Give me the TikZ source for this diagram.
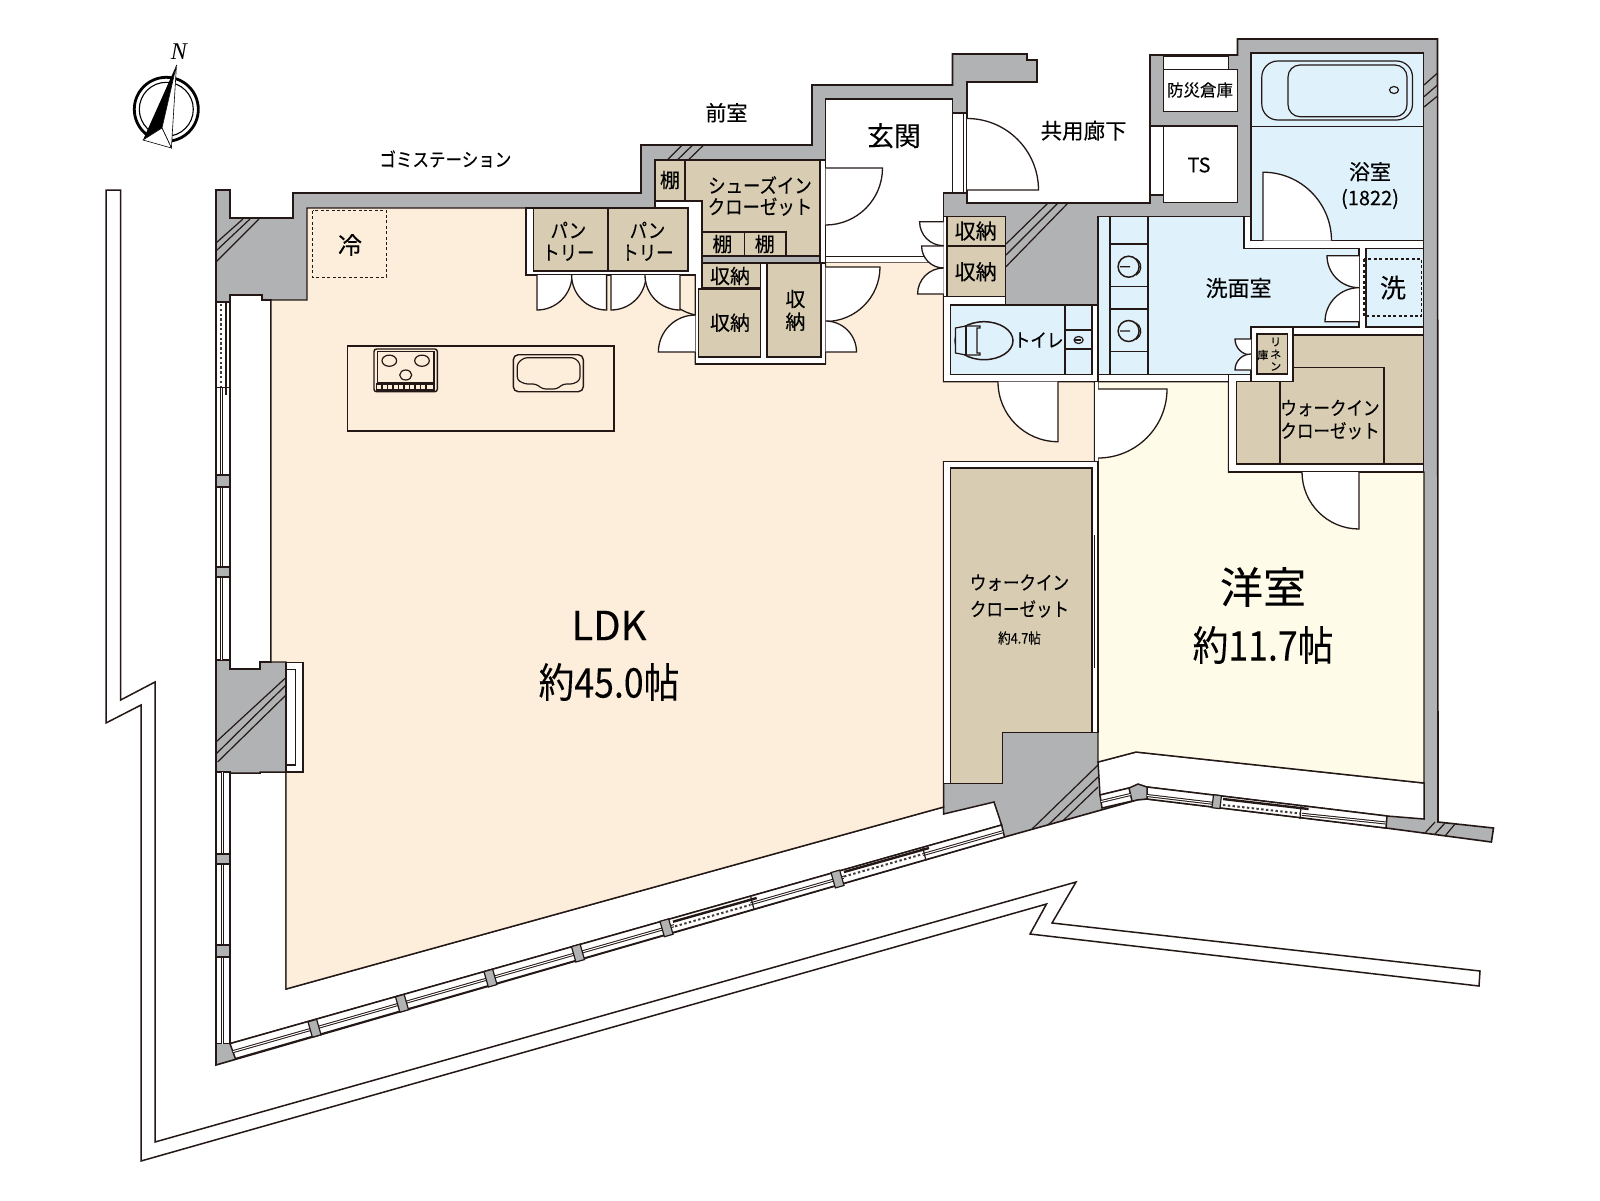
\documentclass[tikz,border=0pt]{standalone}
\usepackage{fontspec}
\newfontfamily\jpfont[FakeBold=0.12]{Noto Sans CJK JP}
\newfontfamily\jpnarrow[FakeStretch=0.87,FakeBold=0.12]{Noto Sans CJK JP}
\setmainfont{Liberation Serif}

\definecolor{linecol}{HTML}{231815}
\definecolor{wallgray}{HTML}{B1B2B4}
\definecolor{ldkpeach}{HTML}{FDEEDB}
\definecolor{bedcream}{HTML}{FFFBE9}
\definecolor{wetblue}{HTML}{DFF1FB}
\definecolor{closettan}{HTML}{D8CDB2}

\newcommand{\doorswing}[4]{
	\fill[white] (#1) -- ++(#3:#2) arc[start angle=#3,end angle=#4,radius=#2] -- cycle;
	\draw[doorline] (#1) -- ++(#3:#2) arc[start angle=#3,end angle=#4,radius=#2];
}

\begin{document}
\begin{tikzpicture}[
	x=1pt,
	y=-1pt,
	wall/.style={fill=wallgray, draw=linecol, line width=1.6pt, line join=miter},
	whitepart/.style={fill=white, draw=linecol, line width=1.5pt},
	ldkroom/.style={fill=ldkpeach, draw=linecol, line width=1.4pt},
	bedroom/.style={fill=bedcream, draw=linecol, line width=1.4pt},
	wetroom/.style={fill=wetblue, draw=linecol, line width=1.4pt},
	closet/.style={fill=closettan, draw=linecol, line width=1.4pt},
	thinline/.style={draw=linecol, line width=1.2pt},
	hatchline/.style={draw=linecol, line width=1.2pt},
	doorline/.style={draw=linecol, line width=1.3pt},
	dashbox/.style={draw=linecol, line width=1.3pt, dash pattern=on 3pt off 2.4pt},
	sash/.style={draw=linecol, line width=1pt, double=white, double distance=1pt},
	thicksash/.style={draw=linecol, line width=2.4pt},
	screenline/.style={draw=linecol!85, line width=2pt, dash pattern=on 2.4pt off 2.4pt},
	mullion/.style={fill=wallgray, draw=linecol, line width=1.2pt, inner sep=0pt, minimum width=#1},
	tag/.style={font=\jpfont\fontsize{#1}{#1}\selectfont, inner sep=0pt, text=black, align=center},
	kanatag/.style={font=\jpnarrow\fontsize{#1}{#1}\selectfont, inner sep=0pt, text=black, align=center}
	]

	\useasboundingbox (0,0) rectangle (1600,1200);
	\fill[white] (0,0) rectangle (1600,1200);

	% balcony
	\draw[whitepart] (106,190) -- (120.6,190) -- (120.6,700) -- (155,682) -- (155,1142) -- (1076,882) -- (1052,923) -- (1480,971) -- (1479,986) -- (1030,934) -- (1046.5,904) -- (141,1161) -- (141,705) -- (106,723) -- cycle;

	% building outline, everything else is painted over it
	\draw[wall] (216,190) -- (230,190) -- (230,218) -- (293,218) -- (293,193) -- (641,193) -- (641,145) -- (812,145) -- (812,85) -- (952.5,85) -- (952.5,54) -- (1027,54) -- (1027,60) -- (1037,60) -- (1037,82) -- (967,82) -- (967,203) -- (1150,203) -- (1150,55) -- (1237.5,55) -- (1237.5,39) -- (1437.5,39) -- (1438,822) -- (1493.5,828) -- (1491.4,842) -- (1386,828) -- (1147,799) -- (1137,800) -- (1004.5,837) -- (216,1065) -- cycle;

	% white strips along the glass
	\draw[whitepart] (230,295) -- (262,295) -- (262,300) -- (271,300) -- (271,662) -- (260,662) -- (260,669) -- (230,669) -- cycle;
	\draw[whitepart] (230,773) -- (260,773) -- (260,772) -- (286,772) -- (286,989) -- (943.6,807) -- (943.6,814) -- (994,802) -- (1001.6,825) -- (230,1043.6) -- cycle;
	\draw[whitepart] (1098,762) -- (1136,752) -- (1424,783) -- (1424,819) -- (1387,816) -- (1147,787) -- (1138,784) -- (1129,788) -- (1100,795) -- cycle;

	% LDK and bedroom
	\draw[ldkroom] (307,208) -- (526,208) -- (526,275) -- (695.4,275) -- (695.4,364) -- (825.5,364) -- (825.5,262) -- (943.6,262) -- (943.6,381.7) -- (1094.6,381.7) -- (1094.6,461.7) -- (943.6,461.7) -- (943.6,807) -- (286,989) -- (286,772) -- (286,662) -- (271,662) -- (271,300) -- (307,300) -- cycle;
	\draw[bedroom] (1098,381.7) -- (1228.6,381.7) -- (1228.6,472) -- (1424,472) -- (1424,783) -- (1136,752) -- (1098,762) -- cycle;
	\fill[white] (1094.6,381.7) rectangle (1098,461.7);
	\draw[thinline] (1094.6,381.7) -- (1094.6,461.7);

	% entrance
	\draw[whitepart] (825.5,99) -- (952.5,99) -- (952.5,193) -- (943.6,193) -- (943.6,256.7) -- (825.5,256.7) -- cycle;
	\draw[whitepart] (952.5,113) rectangle (967,193);
	\draw[thinline] (963.6,113) -- (963.6,193);
	\fill[white] (825.5,256.7) rectangle (943.6,262);

	% closets by the entrance
	\draw[whitepart] (655,201) -- (702,201) -- (702,263) -- (825.5,263) -- (825.5,364) -- (695.4,364) -- (695.4,275) -- (526,275) -- (526,208) -- (655,208) -- cycle;
	\draw[whitepart] (820,160) rectangle (825.5,263);
	\draw[closet] (655,160) -- (820,160) -- (820,256) -- (702,256) -- (702,201) -- (655,201) -- cycle;
	\draw[thinline] (685,160) -- (685,201);
	\draw[thinline] (702,232) -- (786,232) -- (786,256) (744.4,232) -- (744.4,256);
	\draw[closet] (533.7,208) rectangle (608,271);
	\draw[closet] (608,208) rectangle (688,271);
	\draw[closet] (702,263) rectangle (760.7,288);
	\draw[closet] (698.5,289) rectangle (760.7,357);
	\draw[closet] (767,263) rectangle (821,357);

	% storage and toilet
	\draw[whitepart] (943.6,216.7) rectangle (1005.4,296.7);
	\draw[closet] (947,216.7) rectangle (1005.4,246);
	\draw[closet] (947,246) rectangle (1005.4,296.7);
	\draw[whitepart] (943.6,296.7) -- (1005.4,296.7) -- (1005.4,305) -- (1098,305) -- (1098,381.7) -- (943.6,381.7) -- cycle;
	\draw[wetroom] (950.7,305) rectangle (1092,374.3);
	\draw[thinline] (1065,305) -- (1065,374.3) (1065,330) -- (1092,330) (1065,349) -- (1092,349);
	\draw[thinline] (1078.6,340) ellipse [x radius=4.5, y radius=3.5];
	\draw[thinline] (1074,340) -- (1081,340);
	\draw[draw=linecol, line width=1.5pt] (984,340.7) ellipse [x radius=29, y radius=19];
	\draw[thinline, fill=wetblue] (955.4,328) -- (966,326) -- (980,326) -- (980,328) -- (977,328) -- (977,353) -- (980,353) -- (980,355) -- (966,355) -- (955.4,353) -- cycle;
	\draw[thinline] (966,326) -- (966,355);

	% washroom, bath
	\draw[whitepart] (1098,216.7) -- (1251,216.7) -- (1251,240.7) -- (1423.5,240.7) -- (1423.5,335) -- (1293,335) -- (1293,381.7) -- (1098,381.7) -- cycle;
	\draw[wetroom] (1098,216.7) -- (1244,216.7) -- (1244,248.3) -- (1359,248.3) -- (1359,327) -- (1251,327) -- (1251,374.3) -- (1098,374.3) -- cycle;
	\draw[thinline] (1110,216.7) -- (1110,374.3) (1148,216.7) -- (1148,374.3);
	\foreach \cy in {244,286.7,309,351.7}
		\draw[thinline] (1110,\cy) -- (1148,\cy);
	\foreach \cy in {266.7,331}{
		\draw[draw=linecol, line width=1.5pt] (1128.6,\cy) circle [radius=10.5];
		\draw[thinline] (1120,\cy) -- (1130,\cy) (1136,\cy-8) arc[start angle=-60,end angle=60,radius=9.5];
	}
	\draw[wetroom] (1366,248.3) rectangle (1423.5,327);
	\draw[dashbox] (1364,259) rectangle (1421.4,316);
	\draw[wetroom] (1251,53) rectangle (1423.5,240.7);
	\draw[thinline] (1251,126.7) -- (1423.5,126.7);
	\draw[thinline] (1261.8,61) [rounded corners=16pt] rectangle (1412.5,120);
	\draw[thinline] (1288,65) [rounded corners=12pt] rectangle (1407,116.7);
	\draw[thinline] (1394,90) ellipse [x radius=4.5, y radius=3.5];

	% small rooms beside the corridor
	\draw[whitepart] (1163.6,56) rectangle (1228.6,69.3);
	\draw[whitepart] (1163.6,69.3) rectangle (1237.5,111.7);
	\draw[whitepart] (1163.6,126) rectangle (1237.5,202.7);
	\draw[whitepart] (1150,126) rectangle (1163.6,195);

	% walk-in closets
	\draw[whitepart] (1228.6,374.3) rectangle (1423.5,472);
	\draw[closet] (1236.4,381.7) -- (1293,381.7) -- (1293,335) -- (1423.5,335) -- (1423.5,464) -- (1236.4,464) -- cycle;
	\draw[thinline] (1280,381.7) -- (1280,464) (1293,367.7) -- (1384,367.7) -- (1384,464);
	\draw[whitepart] (1251,327) rectangle (1293,381.7);
	\draw[closet] (1257,334) rectangle (1287.5,374);
	\draw[whitepart] (943.6,461.7) -- (1098,461.7) -- (1098,732.7) -- (1002.4,732.7) -- (1002.4,783.3) -- (943.6,783.3) -- cycle;
	\draw[closet] (950.6,468) -- (1092,468) -- (1092,732.7) -- (1002.4,732.7) -- (1002.4,783.3) -- (950.6,783.3) -- cycle;
	\draw[thinline] (1094.5,535) -- (1094.5,668);

	% kitchen
	\draw[draw=linecol, line width=1.8pt] (347.4,346) rectangle (613.8,431);
	\draw[draw=linecol, line width=1.4pt, rounded corners=2.5pt] (374,349) rectangle (437.3,391.7);
	\draw[thinline] (377.3,351.7) rectangle (434,382.7);
	\draw[thinline] (389.3,360.7) ellipse [x radius=7.3, y radius=5.6];
	\draw[thinline] (422,360.7) ellipse [x radius=7.3, y radius=5.6];
	\draw[thinline] (405.7,375) ellipse [x radius=6, y radius=5];
	\draw[thinline] (376.7,384) rectangle (434,390);
	\foreach \tx in {382,387.5,393,398.5,404,409.5,415,420.5,426}
		\draw[thinline] (\tx,384) -- (\tx,390);
	\draw[draw=linecol, line width=1.4pt, rounded corners=5pt] (513.3,354.7) rectangle (583.3,391.7);
	\draw[thinline, rounded corners=3pt] (524.3,357.7) -- (574.3,357.7) -- (580,363.3) -- (580,380) -- (573.3,384) -- (563.3,384) -- (556.7,389) -- (542.7,389) -- (536,384) -- (525,384) -- (517.3,380) -- (517.3,363.3) -- cycle;
	\draw[dashbox] (312.8,210.7) rectangle (386.7,277.3);

	% column with its panel
	\draw[whitepart, line width=1.1pt] (286,662.5) rectangle (303,772);
	\draw[whitepart, line width=1.1pt] (286,669.6) rectangle (295.6,765);

	% glass on the left
	\draw[whitepart] (216,302) rectangle (230,660);
	\draw[whitepart] (216,772) rectangle (230,1043.6);
	\draw[screenline] (220.5,304) -- (220.5,386);
	\draw[thicksash] (225.7,303) -- (225.7,395);
	\draw[thinline] (216,387.7) -- (230,387.7);
	\draw[sash] (221,388) -- (221,660);
	\draw[sash] (222,772) -- (222,1043.6);
	\foreach \my/\mh [count=\i] in {481/12,572/10,859/10,951/12}
		\node[mullion=14pt, line width=1.8pt, minimum height=\mh pt] (leftmull\i) at (223,\my) {};

	% glass on the long slanted side
	\draw[whitepart] (230,1043.6) -- (1001.6,825) -- (1004.5,837) -- (235.4,1058.6) -- cycle;
	\draw[sash] (233,1051.6) -- (751,903.7);
	\draw[sash] (751,903.7) -- (1003,831.7);
	\draw[fill=white, draw=none] (674,921.7) -- (750,899.5) -- (750,908) -- (674,930) -- cycle;
	\draw[fill=white, draw=none] (844,872) -- (923,849.5) -- (923,858) -- (844,880.5) -- cycle;
	\draw[screenline] (675,926.3) -- (750,905);
	\draw[screenline] (844,876.5) -- (923,854);
	\draw[thicksash] (673,921.7) -- (756.7,898);
	\draw[thicksash] (844,872) -- (929,848);
	\draw[thinline] (750.7,896.5) -- (754,909.5);
	\draw[thinline] (922.7,847.5) -- (926,860.5);
	\foreach \mx/\my [count=\i] in {314.5/1028.3,402/1003.3,490.5/978.1,578/953.1,666.5/927.8,837.5/879}
		\node[mullion=9pt, minimum height=16pt, rotate=15.93] (longmull\i) at (\mx,\my) {};

	% glass of the bedroom
	\draw[whitepart] (1100,795) -- (1129,788) -- (1132,801) -- (1102,808) -- cycle;
	\draw[sash] (1101,801.5) -- (1130.5,794.5);
	\draw[whitepart] (1147,787) -- (1387,816) -- (1386,828) -- (1147,799) -- cycle;
	\draw[sash] (1147,795.5) -- (1213,803.3);
	\draw[screenline] (1223,805) -- (1300,813.5);
	\draw[thicksash] (1223,799) -- (1308.6,809);
	\draw[thinline] (1301,806) -- (1300,819);
	\draw[sash] (1302,814.3) -- (1386,823);
	\node[mullion=8pt, minimum height=13pt, rotate=-6.9] (bedmull) at (1216.7,801.7) {};

	% diagonal hatching of the shafts
	\foreach \ax/\ay/\bx/\by in {216/243/243/219, 216/251/250/219, 216/262/259/219, 668/159.3/681.6/145.7, 678/159.3/692/145.7, 689/159.3/703/145.7, 1048/203/1006/244, 1058/203/1006/255, 1068/203/1006/266.7, 1424/85/1437.5/73, 1424/96.7/1437.5/85, 1424/107/1437.5/96, 1425/833/1435/822, 1435/834/1445/823, 1445/836/1455/824, 216/742/286/677.5, 216/754/286/685, 217.6/762/286/695, 1032/829/1098/765, 1048/825/1098/777, 1063/820.7/1098/787}
		\draw[hatchline] (\ax,\ay) -- (\bx,\by);

	% doors
	\doorswing{825.5,168}{57}{0}{90}
	\doorswing{537,275}{35}{90}{0}
	\doorswing{606.6,275}{35}{90}{180}
	\doorswing{611,275}{35}{90}{0}
	\doorswing{680,275}{35}{90}{180}
	\doorswing{695.4,352}{37}{180}{270}
	\draw[doorline] (680,309) to[bend right=8] (695.4,315);
	\doorswing{825.5,267}{54.5}{0}{90}
	\doorswing{825.5,352}{31}{0}{-90}
	\doorswing{943.6,221.7}{24}{180}{90}
	\doorswing{943.6,246}{22}{180}{90}
	\doorswing{943.6,294}{26}{180}{270}
	\doorswing{967,190}{71.5}{0}{-90}
	\doorswing{1058,381.7}{60}{90}{180}
	\doorswing{1098,389}{69}{0}{90}
	\doorswing{1263,240.7}{68.5}{270}{360}
	\doorswing{1359,255.7}{32}{180}{90}
	\doorswing{1359,321.7}{34}{180}{270}
	\doorswing{1251,339}{16}{180}{90}
	\doorswing{1251,370}{16}{180}{270}
	\doorswing{1359,472}{57}{90}{180}

	% north mark
	\draw[draw=black, line width=2.8pt] (166.3,109.3) circle [radius=32];
	\draw[draw=black, line width=1.1pt] (166.3,109.3) circle [radius=27];
	\fill[black] (176.5,65) -- (143,140) -- (162,128) -- cycle;
	\draw[fill=white, draw=black, line width=.6pt] (176.5,65) -- (162,128) -- (171.4,148) -- cycle;
	\draw[fill=white, draw=black, line width=.6pt] (143,140) -- (162,128) -- (171.4,148) -- cycle;
	\node[font=\itshape\fontsize{24}{24}\selectfont, inner sep=0pt] (northmark) at (179,52) {N};

	% labels
	\node[tag=21] (anteroom) at (726.5,112.7) {前室};
	\node[kanatag=19] (garbage) at (445.4,159) {ゴミステーション};
	\node[tag=27] (entrance) at (894,135.7) {玄関};
	\node[tag=21.5] (corridor) at (1083.6,130.7) {共用廊下};
	\node[tag=16.5] (disaster) at (1200,90) {防災倉庫};
	\node[tag=20] (tsroom) at (1199,165) {TS};
	\node[tag=21] (bathname) at (1370,171.7) {浴室};
	\node[tag=20] (bathsize) at (1370,199) {(1822)};
	\node[kanatag=20] (shoesa) at (760,185) {シューズイン};
	\node[kanatag=20] (shoesb) at (760,206.7) {クローゼット};
	\node[tag=20] (shelfa) at (670,180) {棚};
	\node[tag=20] (shelfb) at (722.4,244) {棚};
	\node[tag=20] (shelfc) at (764.8,244) {棚};
	\node[tag=24] (fridge) at (350,245) {冷};
	\node[kanatag=20] (pantryaa) at (568.4,230) {パン};
	\node[kanatag=20] (pantryab) at (568.4,252.7) {トリー};
	\node[kanatag=20] (pantryba) at (647.5,230) {パン};
	\node[kanatag=20] (pantrybb) at (647.5,252.7) {トリー};
	\node[tag=20] (storea) at (730,276) {収納};
	\node[tag=20] (storeb) at (730,322.7) {収納};
	\node[tag=20] (storec) at (795.4,299) {収};
	\node[tag=20] (stored) at (795.4,321.7) {納};
	\node[tag=21] (storee) at (975.7,231) {収納};
	\node[tag=21] (storef) at (975.7,271.7) {収納};
	\node[kanatag=19] (toilet) at (1038.6,340) {トイレ};
	\node[tag=22] (washroom) at (1238.6,288) {洗面室};
	\node[tag=26] (washer) at (1393,287.7) {洗};
	\node[tag=11] (linena) at (1275.7,342) {リ};
	\node[tag=11] (linenb) at (1275.7,354.3) {ネ};
	\node[tag=11] (linenc) at (1275.7,366.5) {ン};
	\node[tag=11] (linend) at (1262.9,355) {庫};
	\node[kanatag=19] (wica) at (1330,408) {ウォークイン};
	\node[kanatag=19] (wicb) at (1330,430.7) {クローゼット};
	\node[kanatag=19] (bigwica) at (1019.5,582.6) {ウォークイン};
	\node[kanatag=19] (bigwicb) at (1019.5,609) {クローゼット};
	\node[kanatag=14.5] (bigwicc) at (1019.5,638) {約4.7帖};
	\node[tag=43] (bedname) at (1263,587) {洋室};
	\node[kanatag=41] (bedsize) at (1263,645) {約11.7帖};
	\node[tag=40] (ldkname) at (609,625.5) {LDK};
	\node[kanatag=41] (ldksize) at (609,682) {約45.0帖};
\end{tikzpicture}
\end{document}
